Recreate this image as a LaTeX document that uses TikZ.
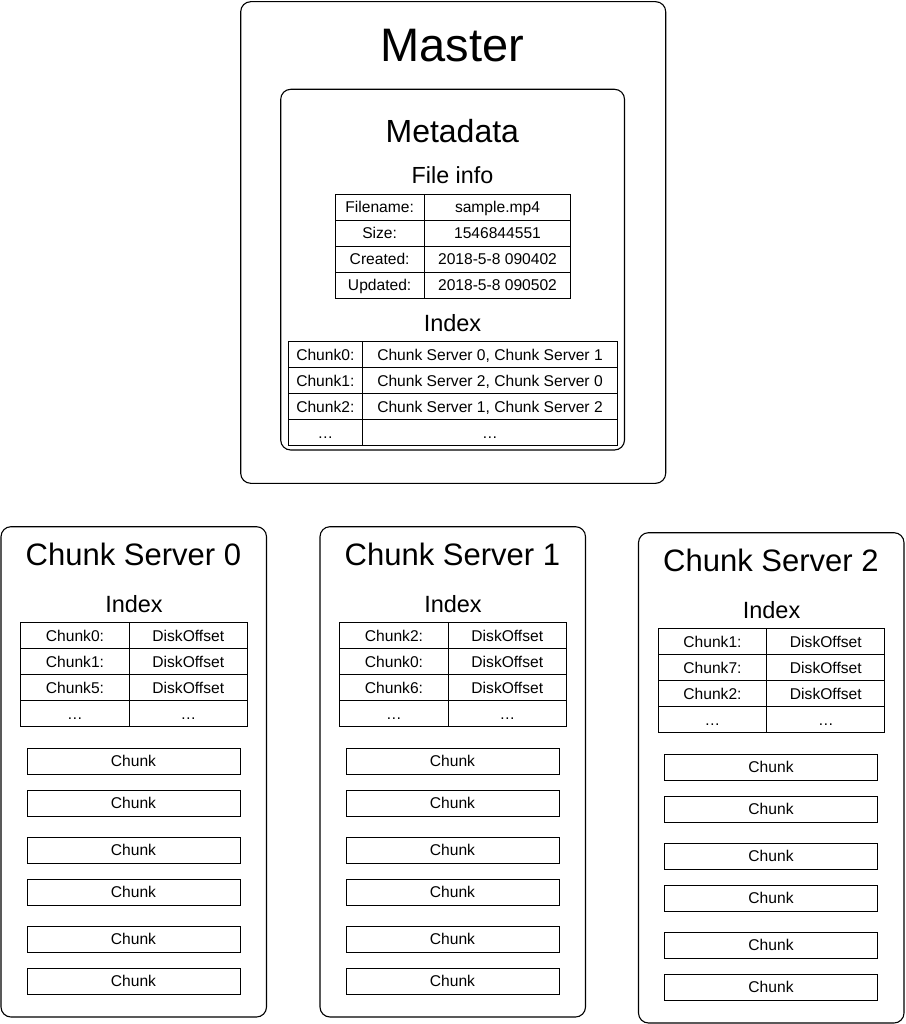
\documentclass[tikz,border=0pt]{standalone}
\usepackage{fontspec}
\setmainfont{Liberation Sans}
\newcommand{\fsz}[1]{\fontsize{#1}{#1}\selectfont}
\tikzset{
  bigbox/.style={draw, line width=1.1pt, rounded corners=10pt, inner sep=0pt},
  cell/.style={draw, line width=1pt, inner sep=0pt, minimum height=26pt, font=\fsz{15.6}, text height=11.2pt, text depth=0pt},
  title/.style={anchor=base, inner sep=0pt},
}
\begin{document}
\begin{tikzpicture}[x=1pt, y=-1pt]
\useasboundingbox (0,0) rectangle (905,1024);
% Master
\node[bigbox, minimum width=425pt, minimum height=481.6pt] (master) at (453.2,242.5) {};
\node[title, font=\fsz{47}] (mastert) at (452.5,62) {Master};
\node[bigbox, minimum width=343.8pt, minimum height=360.7pt] (meta) at (452.6,269.65) {};
\node[title, font=\fsz{32}] (metat) at (452.3,142.7) {Metadata};
\node[title, font=\fsz{23.3}] (fileinfo) at (452.5,183.3) {File info};
% File info table
\foreach \k/\l/\v in {0/Filename:/sample.mp4, 1/Size:/1546844551, 2/Created:/2018-5-8 090402, 3/Updated:/2018-5-8 090502}{
  \node[cell, minimum width=89.3pt] (fl\k) at (379.65,{207.3+26*\k}) {\l};
  \node[cell, minimum width=146.4pt] (fv\k) at (497.5,{207.3+26*\k}) {\v};
}
\node[title, font=\fsz{23.5}] (mindex) at (452.5,331.7) {Index};
% Master index table
\foreach \k/\l/\v in {0/Chunk0:/{Chunk Server 0, Chunk Server 1}, 1/Chunk1:/{Chunk Server 2, Chunk Server 0}, 2/Chunk2:/{Chunk Server 1, Chunk Server 2}, 3/…/…}{
  \node[cell, minimum width=74pt] (il\k) at (325.3,{354.7+26*\k}) {\l};
  \node[cell, minimum width=255.4pt] (iv\k) at (490,{354.7+26*\k}) {\v};
}
% Chunk servers
\foreach \i/\dx/\dy/\a/\b/\c in {0/0/0/0/1/5, 1/319/0/2/0/6, 2/637.5/6/1/7/2}{
  \begin{scope}[shift={(\dx,\dy)}]
    \node[bigbox, minimum width=265.5pt, minimum height=490.3pt] (s\i) at (133.75,771.85) {};
    \node[title, font=\fsz{31}] (s\i t) at (133.4,565.7) {Chunk Server \i};
    \node[title, font=\fsz{23.5}] (s\i x) at (134,612.7) {Index};
    \foreach \k/\l in {0/Chunk\a:, 1/Chunk\b:, 2/Chunk\c:, 3/…}{
      \node[cell, minimum width=108.6pt] (s\i l\k) at (75,{635.7+26*\k}) {\l};
    }
    \foreach \k/\v in {0/DiskOffset, 1/DiskOffset, 2/DiskOffset, 3/…}{
      \node[cell, minimum width=118pt] (s\i v\k) at (188.3,{635.7+26*\k}) {\v};
    }
    \foreach \k/\t in {0/748.3, 1/790.3, 2/837.3, 3/879.3, 4/926.3, 5/968.3}{
      \node[cell, minimum width=213pt] (s\i c\k) at (133.5,{\t+13}) {Chunk};
    }
  \end{scope}
}
\end{tikzpicture}
\end{document}
